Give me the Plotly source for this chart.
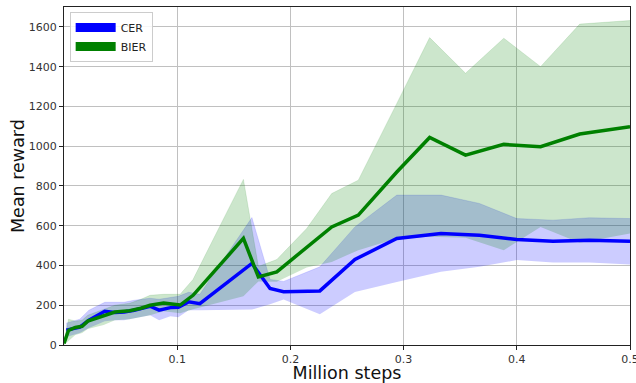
import plotly.graph_objects as go

# Mean reward curves (mean with lower/upper spread) over training, in million steps
cer_steps = [0.002, 0.014, 0.022, 0.036, 0.045, 0.053, 0.062, 0.076, 0.084, 0.094, 0.101,
             0.110, 0.120, 0.166, 0.182, 0.194, 0.226, 0.257, 0.294, 0.333, 0.367, 0.400,
             0.432, 0.464, 0.500]
cer_mean = [75, 90, 125, 170, 163, 166, 175, 195, 175, 188, 190, 217, 208, 410, 284, 268,
            272, 430, 536, 561, 552, 531, 522, 527, 522]
cer_upper = [110, 130, 175, 215, 215, 215, 225, 235, 230, 240, 245, 265, 255, 641, 330, 320,
             393, 594, 754, 754, 712, 636, 628, 640, 636]
cer_lower = [40, 60, 85, 120, 125, 125, 135, 150, 125, 145, 140, 175, 175, 178, 205, 229,
             155, 267, 317, 368, 393, 427, 415, 415, 405]

bier_steps = [0.0, 0.004, 0.010, 0.016, 0.021, 0.035, 0.045, 0.058, 0.068, 0.076, 0.088,
              0.1026, 0.114, 0.1585, 0.1717, 0.188, 0.2144, 0.2365, 0.26, 0.294, 0.323,
              0.3547, 0.3885, 0.421, 0.4556, 0.5]
bier_mean = [8, 74, 88, 94, 120, 148, 166, 172, 185, 200, 211, 201, 250, 536, 342, 368, 490,
             594, 653, 870, 1044, 955, 1009, 997, 1061, 1098]
bier_upper = [20, 130, 120, 125, 150, 180, 200, 210, 230, 250, 255, 255, 330, 833, 395, 430,
              586, 762, 829, 1215, 1546, 1367, 1543, 1400, 1614, 1632]
bier_lower = [0, 20, 50, 60, 80, 100, 125, 130, 140, 150, 170, 160, 180, 245, 320, 318, 390,
              418, 477, 536, 545, 540, 477, 594, 514, 561]

x_ticks = [0.1, 0.2, 0.3, 0.4, 0.5]
y_ticks = [0, 200, 400, 600, 800, 1000, 1200, 1400, 1600]

series = [
    ("CER", cer_steps, cer_mean, cer_lower, cer_upper, "#0000ff", "rgba(0,0,255,0.2)"),
    ("BIER", bier_steps, bier_mean, bier_lower, bier_upper, "#008000", "rgba(0,128,0,0.2)"),
]

fig = go.Figure()

# shaded spread bands
for name, xs, mean, lo, hi, col, fill in series:
    fig.add_trace(go.Scatter(x=xs, y=lo, mode="lines", line=dict(width=0),
                             showlegend=False, hoverinfo="skip"))
    fig.add_trace(go.Scatter(x=xs, y=hi, mode="lines", line=dict(width=0.6, color=fill),
                             fill="tonexty", fillcolor=fill, showlegend=False,
                             hoverinfo="skip"))

# mean curves
for name, xs, mean, lo, hi, col, fill in series:
    fig.add_trace(go.Scatter(x=xs, y=mean, mode="lines", name=name,
                             line=dict(color=col, width=3.5), showlegend=False))

# legend patches
for name, xs, mean, lo, hi, col, fill in series:
    fig.add_trace(go.Scatter(x=[None], y=[None], mode="lines", name=name,
                             line=dict(color=col, width=9)))

axis_common = dict(
    showline=True, linecolor="#222222", linewidth=1, mirror=True,
    showgrid=True, gridcolor="#c0c0c0", gridwidth=1,
    ticks="outside", ticklen=4, tickcolor="#222222",
    tickfont=dict(family="DejaVu Sans", size=11, color="#333333"),
    zeroline=False, automargin=False,
)

fig.update_layout(
    width=636, height=383,
    margin=dict(l=64, r=6, t=7, b=38),
    paper_bgcolor="white", plot_bgcolor="white",
    font=dict(family="DejaVu Sans"),
    xaxis=dict(range=[0, 0.5], tickvals=x_ticks, ticktext=[str(v) for v in x_ticks],
               ticklabeloverflow="allow",
               title=dict(text="Million steps", font=dict(size=17.5, color="#111111"),
                          standoff=4),
               **axis_common),
    yaxis=dict(range=[0, 1700], tickvals=y_ticks, **axis_common),
    legend=dict(x=0.01, y=0.985, xanchor="left", yanchor="top",
                bgcolor="rgba(255,255,255,0.85)", bordercolor="#cccccc", borderwidth=1,
                font=dict(size=11, color="#222222"), itemwidth=40,
                tracegroupgap=0, traceorder="normal"),
    showlegend=True,
)

# y-axis title placed as rotated text left of the tick labels
fig.add_annotation(text="Mean reward", xref="paper", yref="paper",
                   x=-0.0813, y=0.5, xanchor="center", yanchor="middle",
                   textangle=-90, showarrow=False,
                   font=dict(family="DejaVu Sans", size=17.5, color="#111111"))

fig.write_html("out.html")
